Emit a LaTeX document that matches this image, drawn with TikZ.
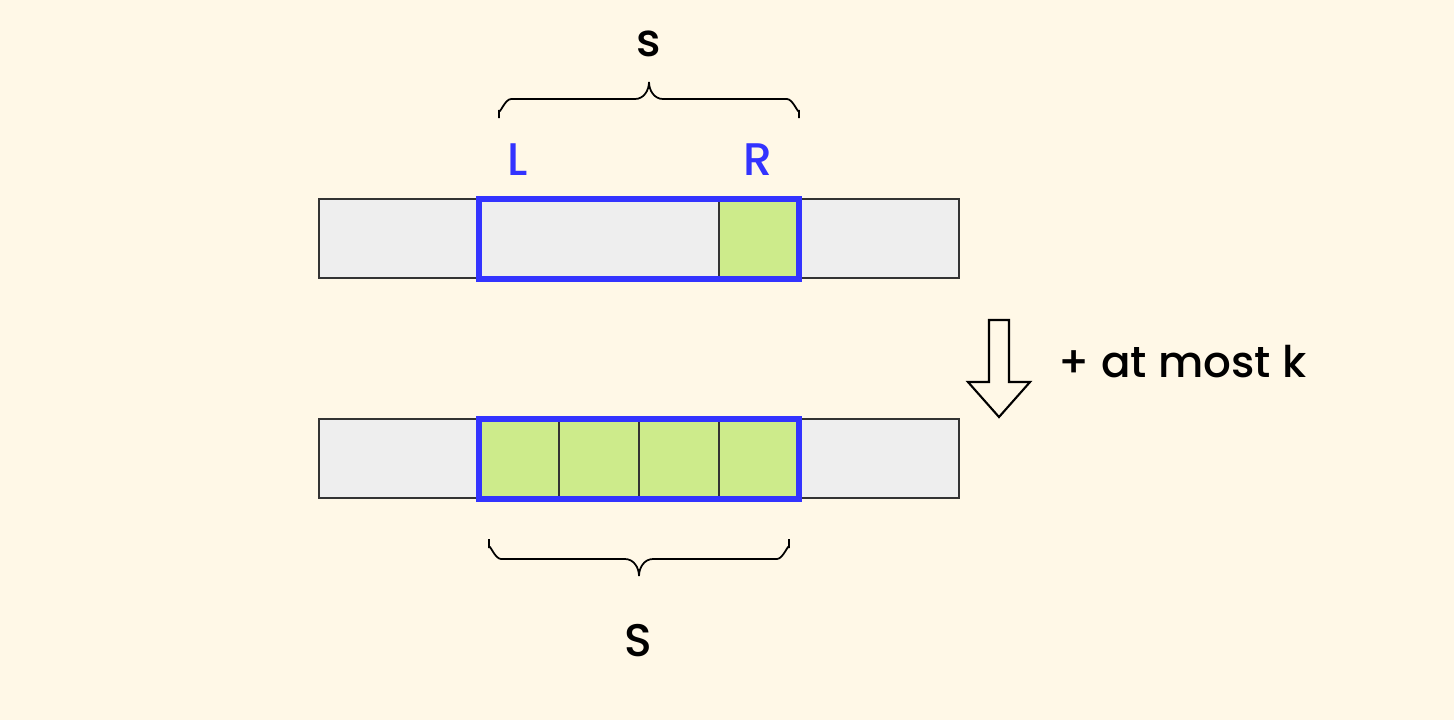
\documentclass[tikz,border=0pt]{standalone}
\usepackage{fontspec}
\setmainfont{Poppins}[BoldFont={* Medium}]
\definecolor{bg}{HTML}{FFF8E7}
\definecolor{cellgrey}{HTML}{EEEEEE}
\definecolor{cellgreen}{HTML}{CDEB8B}
\definecolor{edge}{HTML}{333333}
\definecolor{hl}{HTML}{3333FF}
\begin{document}
\begin{tikzpicture}[x=0.01cm,y=-0.01cm,
  cell/.style={draw=edge,line width=0.5pt},
  win/.style={draw=hl,line width=1.5pt},
  lbl/.style={font=\fontsize{13}{16}\selectfont\bfseries},
  blbl/.style={lbl,text=hl},
  bracepath/.style={draw=black,line width=0.5pt}]
\fill[bg] (0,0) rectangle (1454,720);
\useasboundingbox (0,0) rectangle (1454,720);
% top row
\path[cell,fill=cellgrey] (319,199) rectangle (959,278);
\path[cell,fill=cellgrey] (479,199) rectangle (719,278);
\path[cell,fill=cellgreen] (719,199) rectangle (799,278);
\draw[win] (479,199) rectangle (799,279);
% bottom row
\path[cell,fill=cellgrey] (319,419) rectangle (959,498);
\foreach \x in {479,559,639,719}{
  \path[cell,fill=cellgreen] (\x,419) rectangle ({\x+80},498);
}
\draw[win] (479,419) rectangle (799,499);
% top brace
\draw[bracepath] (499,118) -- (499,110) to[out=-90,in=180] (511,99) -- (635,99)
  to[out=0,in=-90] (649,82) to[out=-90,in=180] (663,99) -- (787,99)
  to[out=0,in=-90] (799,110) -- (799,118);
% bottom brace
\draw[bracepath] (489,539) -- (489,548) to[out=90,in=180] (501,559) -- (625,559)
  to[out=0,in=90] (639,576) to[out=90,in=180] (653,559) -- (777,559)
  to[out=0,in=90] (789,548) -- (789,539);
% labels
\node[lbl] (s) at (649,44) {s};
\node[lbl] (S) at (638,641) {S};
\node[blbl] (L) at (518,160) {L};
\node[blbl] (R) at (758,160) {R};
% arrow
\draw[black,line width=0.6pt,fill=bg] (989,320) -- (1009,320) -- (1009,382) -- (1030,382)
  -- (999,417) -- (968,382) -- (989,382) -- cycle;
\node[lbl,anchor=west,inner sep=0pt,font=\fontsize{12.4}{15}\selectfont\bfseries] (k) at (1058,362) {+ at most k};
\end{tikzpicture}
\end{document}
